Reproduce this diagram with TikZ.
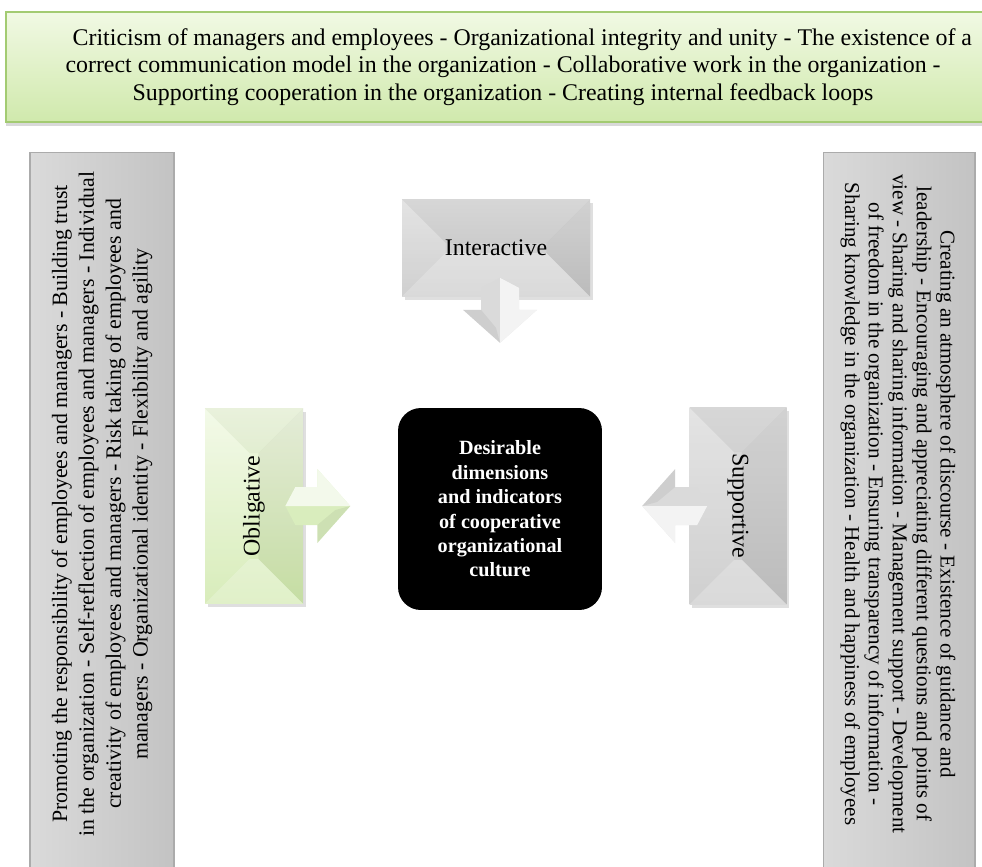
\documentclass[tikz,border=0pt]{standalone}
\usepackage{fontspec}
\setmainfont{LiberationSerif}[Extension=.ttf, UprightFont=*-Regular, BoldFont=*-Bold,
  ItalicFont=*-Italic, BoldItalicFont=*-BoldItalic]
\usetikzlibrary{positioning,shadows,calc}

\definecolor{leafpale}{HTML}{F1F9E4}
\definecolor{leafmid}{HTML}{D0E9AC}
\definecolor{leafline}{HTML}{A3CB72}
\definecolor{ashpale}{HTML}{DADADA}
\definecolor{ashmid}{HTML}{C3C3C3}
\definecolor{ashline}{HTML}{ABABAB}

\tikzset{
  banner/.style={draw=leafline, line width=1.2pt, top color=leafpale, bottom color=leafmid,
    drop shadow={opacity=.3, shadow xshift=0pt, shadow yshift=-2.5pt},
    align=center, font=\fontsize{13.6}{15.6}\selectfont},
  sidebox/.style={draw=ashline, line width=.6pt, left color=ashpale, right color=ashmid},
  sidetext/.style={align=center},
  grayblock/.style={top color=ashpale!90, bottom color=ashmid!95,
    drop shadow={opacity=.25, shadow xshift=1.5pt, shadow yshift=-2pt}},
  greenblock/.style={top color=leafpale, bottom color=leafmid,
    drop shadow={opacity=.25, shadow xshift=1.5pt, shadow yshift=-2pt}},
  blocklabel/.style={font=\fontsize{13.6}{15}\selectfont},
  core/.style={fill=black, rounded corners=13pt, text=white, align=center,
    font=\fontsize{11.5}{13.9}\selectfont\bfseries},
  pics/blockarrow/.style={code={
    % arrow pointing along +x, pointed tail at the origin
    \fill[#1] (0,0) -- (10,-19) -- (32,-19) -- (32,-37) -- (65,0) -- (32,37) -- (32,19) -- (10,19) -- cycle;
    \fill[white,opacity=.7] (0,0) -- (10,-19) -- (32,-19) -- (32,-37) -- (65,0) -- cycle;
    \fill[black,opacity=.05] (32,19) -- (32,37) -- (65,0) -- (50,4) -- cycle;
  }}
}

% hip-roof facets on a block node: #1 node, #2 depth
\newcommand{\bevel}[2]{
  \fill[black,opacity=.03] (#1.north west) -- (#1.north east) -- ($(#1.north east)+(-#2,#2)$) -- ($(#1.north west)+(#2,#2)$) -- cycle;
  \fill[white,opacity=.18] (#1.north west) -- (#1.south west) -- ($(#1.south west)+(#2,-#2)$) -- ($(#1.north west)+(#2,#2)$) -- cycle;
  \fill[black,opacity=.05] (#1.north east) -- (#1.south east) -- ($(#1.south east)+(-#2,-#2)$) -- ($(#1.north east)+(-#2,#2)$) -- cycle;
  \fill[white,opacity=.35] (#1.south west) -- (#1.south east) -- ($(#1.south east)+(-#2,-#2)$) -- ($(#1.south west)+(#2,-#2)$) -- cycle;
}

\begin{document}
\begin{tikzpicture}[x=0.02cm, y=-0.02cm]
\useasboundingbox (0,0) rectangle (982,866);
\clip (0,0) rectangle (982,866);

% top row
\node (top) [banner, minimum width=19.9cm, minimum height=2.2cm] at (503,67)
  {\hspace*{22pt}Criticism of managers and employees - Organizational integrity and unity - The existence of a\\
   correct communication model in the organization - Collaborative work in the organization -\\
   Supporting cooperation in the organization - Creating internal feedback loops};

% side columns
\node (left) [sidebox, minimum width=2.88cm, minimum height=14.8cm] at (102,522) {};
\node (lefttext) [sidetext, rotate=90, font=\fontsize{12.45}{15.3}\selectfont] at (102,504)
  {Promoting the responsibility of employees and managers - Building trust\\
   in the organization - Self-reflection of employees and managers - Individual\\
   creativity of employees and managers - Risk taking of employees and\\
   managers - Organizational identity - Flexibility and agility};

\node (right) [sidebox, minimum width=3.04cm, minimum height=14.8cm] at (899,522) {};
\node (righttext) [sidetext, rotate=-90, font=\fontsize{12}{13.6}\selectfont] at (898,504)
  {Creating an atmosphere of discourse - Existence of guidance and\\
   leadership - Encouraging and appreciating different questions and points of\\
   view - Sharing and sharing information - Management support - Development\\
   of freedom in the organization - Ensuring transparency of information -\\
   Sharing knowledge in the organization - Health and happiness of employees};

% three blocks around the core
\node (inter) [grayblock, minimum width=3.76cm, minimum height=1.94cm] at (496,248) {};
\bevel{inter}{44}
\node (intertext) [blocklabel] at (inter) {Interactive};
\pic [rotate=-90] at ($(inter.south)+(4,-19)$) {blockarrow={fill=ashpale}};

\node (oblig) [greenblock, minimum width=1.96cm, minimum height=3.9cm] at (254,506) {};
\bevel{oblig}{45}
\node (obligtext) [blocklabel, rotate=90] at (oblig) {Obligative};
\pic at ($(oblig.east)+(-18,0)$) {blockarrow={fill=leafmid!80!white}};

\node (supp) [grayblock, minimum width=1.94cm, minimum height=3.94cm] at (738,506) {};
\bevel{supp}{45}
\node (supptext) [blocklabel, rotate=-90] at (supp) {Supportive};
\pic [rotate=180] at ($(supp.west)+(18,0)$) {blockarrow={fill=ashpale}};

% core
\node (core) [core, minimum width=4.08cm, minimum height=4.04cm] at (500,509)
  {Desirable\\ dimensions\\ and indicators\\ of cooperative\\ organizational\\ culture};
\end{tikzpicture}
\end{document}
